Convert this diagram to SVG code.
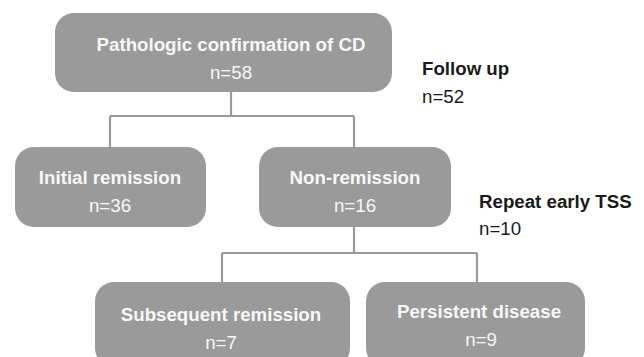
<svg xmlns="http://www.w3.org/2000/svg" width="644" height="357" viewBox="0 0 644 357">
<style>
.box{fill:#9a9a9a;}
.t{font-family:"Liberation Sans",Arial,sans-serif;font-size:18.7px;fill:#f7f7f7;text-anchor:middle;}
.b{font-weight:bold;}
.lbl{font-family:"Liberation Sans",Arial,sans-serif;font-size:18.7px;fill:#1a1a1a;}
.c{fill:none;stroke:#9a9a9a;stroke-width:2.2;}
</style>
<rect width="644" height="357" fill="#ffffff"/>
<g id="connectors">
<path class="c" d="M231 92V116M110 116H354M110 116V148M354 116V148"/>
<path class="c" d="M354 227V253M222 253H477M222 253V283M477 253V283"/>
</g>
<g id="n-top">
<rect class="box" x="55" y="13" width="337" height="79" rx="19"/>
<text class="t b" x="231" y="51">Pathologic confirmation of CD</text>
<text class="t" x="231" y="79">n=58</text>
</g>
<g id="n-initial">
<rect class="box" x="15" y="147" width="191" height="80" rx="19"/>
<text class="t b" x="110" y="184">Initial remission</text>
<text class="t" x="110" y="212">n=36</text>
</g>
<g id="n-non">
<rect class="box" x="259" y="147" width="192" height="80" rx="19"/>
<text class="t b" x="355" y="184">Non-remission</text>
<text class="t" x="355" y="212">n=16</text>
</g>
<g id="n-subsequent">
<rect class="box" x="95" y="282" width="255" height="85" rx="19"/>
<text class="t b" x="221" y="321">Subsequent remission</text>
<text class="t" x="221" y="349">n=7</text>
</g>
<g id="n-persistent">
<rect class="box" x="366" y="282" width="219" height="85" rx="19"/>
<text class="t b" x="479" y="318">Persistent disease</text>
<text class="t" x="481" y="346">n=9</text>
</g>
<g id="l-follow">
<text class="lbl b" x="422" y="75">Follow up</text>
<text class="lbl" x="422" y="103">n=52</text>
</g>
<g id="l-repeat">
<text class="lbl b" x="479" y="208">Repeat early TSS</text>
<text class="lbl" x="479" y="235">n=10</text>
</g>
</svg>
